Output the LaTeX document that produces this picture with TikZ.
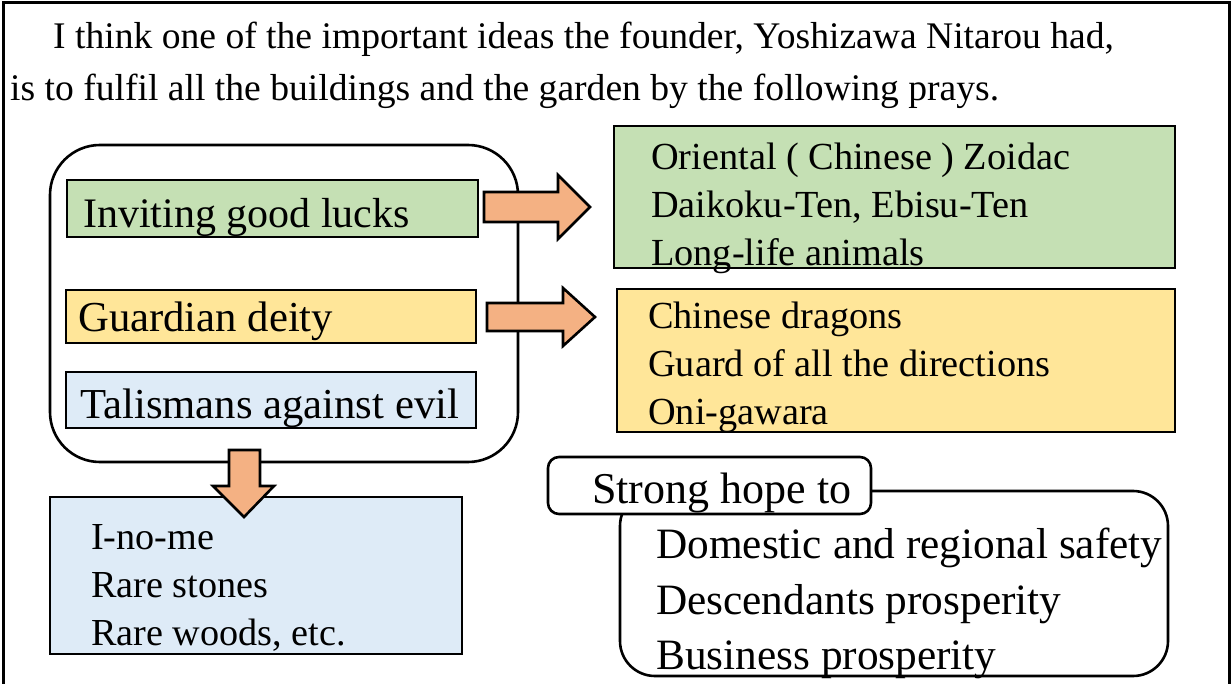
\documentclass[tikz,border=0pt]{standalone}
\usepackage{fontspec}
\setmainfont{Liberation Serif}
\definecolor{gfill}{HTML}{C5E0B4}
\definecolor{yfill}{HTML}{FFE699}
\definecolor{bfill}{HTML}{DEEBF7}
\definecolor{afill}{HTML}{F4B183}
\begin{document}
\begin{tikzpicture}[x=1pt,y=-1pt,
  box/.style={draw, line width=2.6pt, inner sep=0pt, minimum width=#1},
  txt/.style={anchor=base west, inner sep=0pt, font=\fontsize{#1}{#1}\selectfont},
  blockarrow/.style={draw, line width=2.6pt, fill=afill, line join=miter}]
\useasboundingbox (0,0) rectangle (1231,684);
\fill[white] (0,0) rectangle (1231,684);
% outer frame (open at the bottom)
\draw[line width=3pt] (3,700) -- (3,3) -- (1229,3) -- (1229,700);
% title
\node[txt=37.6] (t1) at (53,49) {I think one of the important ideas the founder, Yoshizawa Nitarou had,};
\node[txt=37.6] (t2) at (10,101) {is to fulfil all the buildings and the garden by the following prays.};
% group of three categories
\node[box=468pt, minimum height=317pt, rounded corners=50pt] (grp) at (284,303.5) {};
\node[box=411pt, minimum height=57pt, fill=gfill] (luck) at (272.5,208.5) {};
\node[box=410pt, minimum height=53pt, fill=yfill] (guard) at (271,316.5) {};
\node[box=410pt, minimum height=56pt, fill=bfill] (talis) at (271,400) {};
\node[txt=42] (luckt) at (83,228) {Inviting good lucks};
\node[txt=42.7] (guardt) at (78,332) {Guardian deity};
\node[txt=42.7] (talist) at (80,418) {Talismans against evil};
% right boxes
\node[box=561pt, minimum height=142pt, fill=gfill] (rg) at (894.5,197) {};
\node[txt=38.3] (rg1) at (651,170) {Oriental ( Chinese ) Zoidac};
\node[txt=38.3] (rg2) at (651,218) {Daikoku-Ten, Ebisu-Ten};
\node[txt=38.3] (rg3) at (651,266) {Long-life animals};
\node[box=558pt, minimum height=143pt, fill=yfill] (ry) at (896,360.5) {};
\node[txt=38.3] (ry1) at (648,329) {Chinese dragons};
\node[txt=38.3] (ry2) at (648,377) {Guard of all the directions};
\node[txt=38.3] (ry3) at (648,424) {Oni-gawara};
% bottom left
\node[box=412pt, minimum height=157pt, fill=bfill] (bl) at (256,575.5) {};
\node[txt=38.2] (bl1) at (91,549) {I-no-me};
\node[txt=38.2] (bl2) at (91,597) {Rare stones};
\node[txt=38.2] (bl3) at (91,645) {Rare woods, etc.};
% wishes
\node[box=548pt, minimum height=185pt, rounded corners=35pt, fill=white] (wish) at (894,583.5) {};
\node[box=323pt, minimum height=57pt, rounded corners=11pt, fill=white] (hope) at (709.5,485.5) {};
\node[txt=44] (hopet) at (592,503) {Strong hope to};
\node[txt=43.3] (w1) at (656,558) {Domestic and regional safety};
\node[txt=43.3] (w2) at (656,614) {Descendants prosperity};
\node[txt=43.3] (w3) at (656,669) {Business prosperity};
% block arrows
\draw[blockarrow] (484,192) -- (558,192) -- (558,175) -- (590,207) -- (558,239) -- (558,222) -- (484,222) -- cycle;
\draw[blockarrow] (487,303) -- (563,303) -- (563,288) -- (595,317) -- (563,346) -- (563,331) -- (487,331) -- cycle;
\draw[blockarrow] (229,450) -- (260,450) -- (260,486) -- (274,486) -- (244,517) -- (213,486) -- (229,486) -- cycle;
\end{tikzpicture}
\end{document}
